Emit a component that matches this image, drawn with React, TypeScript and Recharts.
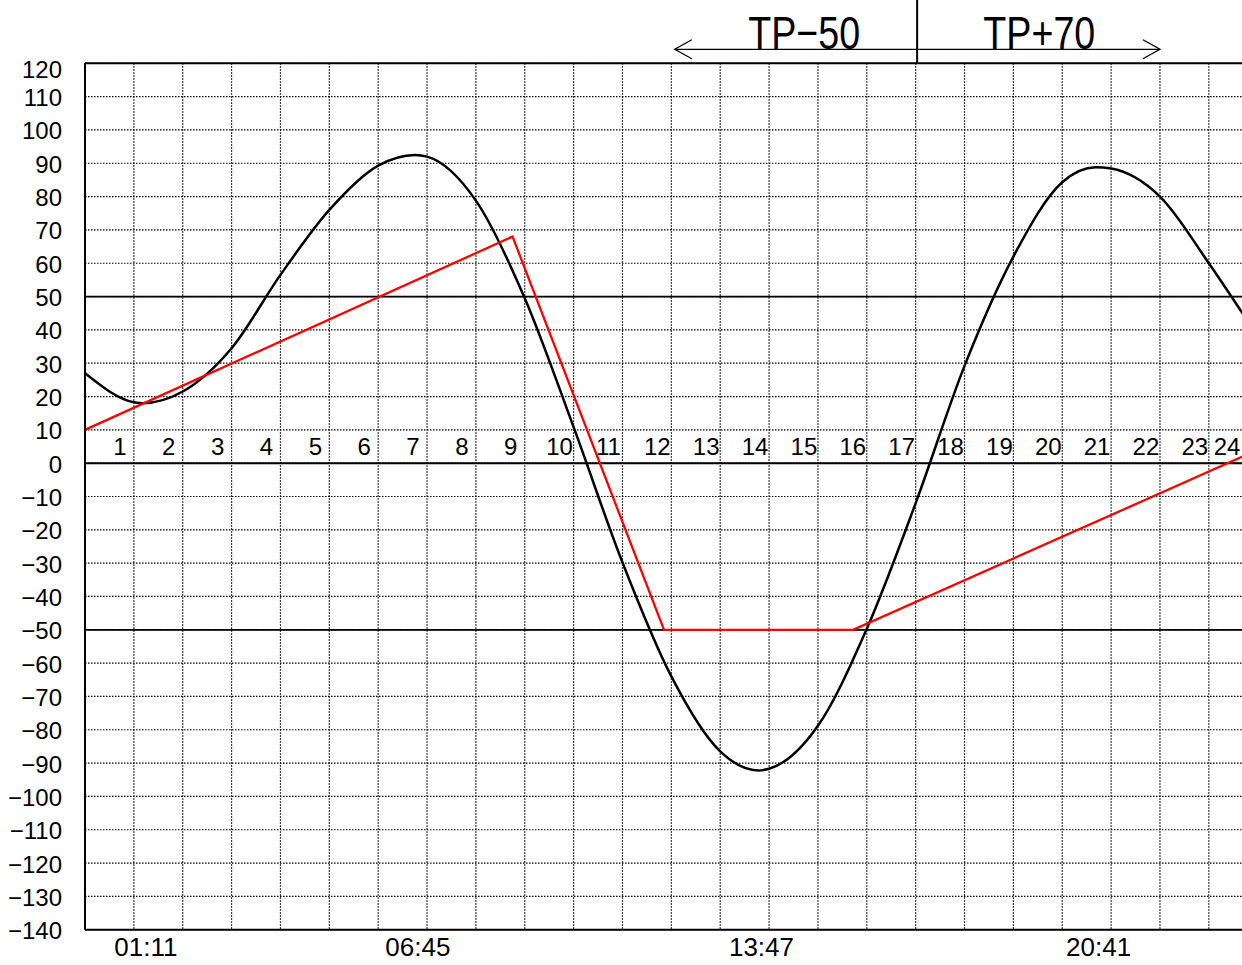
import React from "react";
import {
  ComposedChart,
  Line,
  XAxis,
  YAxis,
  CartesianGrid,
  ReferenceLine,
  ReferenceDot,
} from "recharts";

// hourly grid + labels
const hourTicks = [0, 1, 2, 3, 4, 5, 6, 7, 8, 9, 10, 11, 12, 13, 14, 15, 16, 17, 18, 19, 20, 21, 22, 23, 24];
const hourLabels = [1, 2, 3, 4, 5, 6, 7, 8, 9, 10, 11, 12, 13, 14, 15, 16, 17, 18, 19, 20, 21, 22, 23, 24];
const levelTicks = [-140, -130, -120, -110, -100, -90, -80, -70, -60, -50, -40, -30, -20, -10, 0, 10, 20, 30, 40, 50, 60, 70, 80, 90, 100, 110, 120];

// tide curve (black): hourly readings + the four turning points
const hourlyTide = [27, 18.3, 21.5, 34.5, 56.5, 76, 89.3, 92, 78.8, 49.5, 10.8, -29.8, -64, -86.5, -91.7, -78.8, -49.7, -12, 29.2, 62, 84.3, 88.4, 80, 60, 38];
const tideTimes = ["01:11", "06:45", "13:47", "20:41"];
const tideExtremes = [18, 92.5, -92.2, 88.8];

// red line
const planHours = [0, 8.75, 11.85, 15.72, 24];
const planLevels = [10, 68, -50, -50, 4];

// solid guide lines
const guideLevels = [50, 0, -50];

// header
const tpLabels = ["TP−50", "TP+70"];
const tpLabelHours = [14.72, 19.53];
const TP_SPLIT = 17.03;
const TP_ARROW_FROM = 12.07;
const TP_ARROW_TO = 22.0;
const TP_LEVEL = 124.2;
const CHART_TOP = 139;
const HOUR_LABEL_LEVEL = 5;

const toHours = (t: string) => {
  const [h, m] = t.split(":").map(Number);
  return h + m / 60;
};

const tideData = [
  ...hourlyTide.map((v, i) => ({ h: hourTicks[i], v })),
  ...tideTimes.map((t, i) => ({ h: toHours(t), v: tideExtremes[i] })),
].sort((a, b) => a.h - b.h);

const planData = planHours.map((h, i) => ({ h, v: planLevels[i] }));

const FONT = "'Liberation Sans', 'Noto Sans', sans-serif";
const NARROW = "'Liberation Sans Narrow', 'Liberation Sans', sans-serif";

const fmt = (v: number) => (v < 0 ? `\u2212${Math.abs(v)}` : `${v}`);

const LevelTick = (props: any) => {
  const { x, y, payload } = props;
  const v = payload.value;
  return (
    <text
      x={x - 23}
      y={y + (v === 120 ? 6 : 1)}
      textAnchor="end"
      dominantBaseline="central"
      fontSize={24}
      fontFamily={FONT}
      fill="#000"
    >
      {fmt(v)}
    </text>
  );
};

const TimeTick = (props: any) => {
  const { x, y, index } = props;
  return (
    <text
      x={x + 3}
      y={y + 17}
      textAnchor="middle"
      dominantBaseline="central"
      fontSize={26}
      fontFamily={FONT}
      fill="#000"
    >
      {tideTimes[index]}
    </text>
  );
};

const ArrowShape = (p: any) => {
  const { x1, y1, x2, y2 } = p;
  return (
    <g stroke="#000" strokeWidth={1.3} fill="none">
      <line x1={x1} y1={y1} x2={x2} y2={y2} />
      <polyline points={`${x1 + 17},${y1 - 9.5} ${x1},${y1} ${x1 + 17},${y1 + 9.5}`} />
      <polyline points={`${x2 - 17},${y2 - 9.5} ${x2},${y2} ${x2 - 17},${y2 + 9.5}`} />
    </g>
  );
};

const VIEW_W = 1242;

export default function App() {
  return (
    <div
      style={{
        position: "fixed",
        left: 0,
        top: 0,
        width: VIEW_W,
        height: 965,
        overflow: "hidden",
        background: "#fff",
        fontFamily: FONT,
      }}
    >
      <ComposedChart width={1300} height={965} margin={{ top: 63.3, right: 42.3, bottom: 0, left: 0 }}>
        <CartesianGrid stroke="#000" strokeDasharray="1.5 1.5" strokeWidth={1.2} />
        <XAxis dataKey="h" type="number" domain={[0, 24]} ticks={hourTicks} height={0} allowDataOverflow hide />
        <XAxis
          xAxisId="t"
          dataKey="h"
          type="number"
          domain={[0, 24]}
          ticks={tideTimes.map(toHours)}
          interval={0}
          height={35.3}
          axisLine={{ stroke: "#000", strokeWidth: 2 }}
          tickLine={false}
          tickSize={0}
          tickMargin={0}
          tick={TimeTick}
          allowDataOverflow
        />
        <YAxis
          type="number"
          domain={[-140, 120]}
          ticks={levelTicks}
          interval={0}
          width={85}
          axisLine={{ stroke: "#000", strokeWidth: 2 }}
          tickLine={false}
          tickSize={0}
          tickMargin={0}
          tick={LevelTick}
          allowDataOverflow
        />

        {guideLevels.map((g) => (
          <ReferenceLine key={g} y={g} stroke="#000" strokeWidth={g === 0 ? 2 : 1.8} />
        ))}
        <ReferenceLine y={120} stroke="#000" strokeWidth={2} />

        {hourLabels.map((h) => (
          <ReferenceDot
            key={h}
            x={h}
            y={HOUR_LABEL_LEVEL}
            r={0}
            ifOverflow="visible"
            shape={(p: any) => (
              <text
                x={Math.min(p.cx - 14, VIEW_W - 15)}
                y={p.cy}
                textAnchor="middle"
                dominantBaseline="central"
                fontSize={24}
                fontFamily={FONT}
                fill="#000"
              >
                {h}
              </text>
            )}
          />
        ))}

        <Line
          data={tideData}
          dataKey="v"
          type="monotone"
          stroke="#000"
          strokeWidth={2.5}
          dot={false}
          activeDot={false}
          isAnimationActive={false}
        />
        <Line
          data={planData}
          dataKey="v"
          type="linear"
          stroke="#ff0000"
          strokeWidth={2.3}
          dot={false}
          activeDot={false}
          isAnimationActive={false}
        />

        <ReferenceLine
          segment={[
            { x: TP_SPLIT, y: 120 },
            { x: TP_SPLIT, y: CHART_TOP },
          ]}
          stroke="#000"
          strokeWidth={2}
          ifOverflow="visible"
        />
        <ReferenceLine
          segment={[
            { x: TP_ARROW_FROM, y: TP_LEVEL },
            { x: TP_ARROW_TO, y: TP_LEVEL },
          ]}
          ifOverflow="visible"
          shape={ArrowShape}
        />
        {tpLabels.map((t, i) => (
          <ReferenceDot
            key={t}
            x={tpLabelHours[i]}
            y={TP_LEVEL}
            r={0}
            ifOverflow="visible"
            shape={(p: any) => (
              <text
                x={p.cx}
                y={p.cy}
                textAnchor="middle"
                fontSize={47}
                fontFamily={NARROW}
                textLength={112}
                lengthAdjust="spacingAndGlyphs"
                fill="#000"
              >
                {t}
              </text>
            )}
          />
        ))}
      </ComposedChart>
    </div>
  );
}
